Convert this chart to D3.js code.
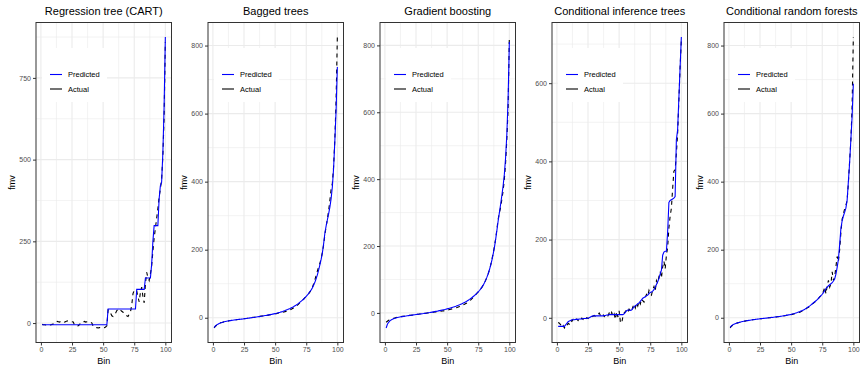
<!DOCTYPE html>
<html>
<head>
<meta charset="utf-8">
<script src="https://cdn.jsdelivr.net/npm/d3@7"></script>
<style>
  body { margin: 0; background: #fff; }
  svg { display: block; font-family: "Liberation Sans", Arial, sans-serif; }
</style>
</head>
<body>
<div id="chart"></div>
<script>
// bins 1..100
const bins = d3.range(1, 101);

const titles = ["Regression tree (CART)", "Bagged trees", "Gradient boosting",
  "Conditional inference trees", "Conditional random forests"];

const xTicks = [0, 25, 50, 75, 100];
const yTicks = [
  [0, 250, 500, 750],
  [0, 200, 400, 600, 800],
  [0, 200, 400, 600, 800],
  [0, 200, 400, 600],
  [0, 200, 400, 600, 800]
];

const cartPred = [
  -5,-5,-5,-5,-5,-5,-5,-5,-5,-5, -5,-5,-5,-5,-5,-5,-5,-5,-5,-5,
  -5,-5,-5,-5,-5,-5,-5,-5,-5,-5, -5,-5,-5,-5,-5,-5,-5,-5,-5,-5,
  -5,-5,-5,-5,-5,-5,-5,-5,-5,-5, -5,-5,-5,43,43,43,43,43,43,43,
  43,43,43,43,43,43,43,43,43,43, 43,43,43,43,43,43,103,103,103,103,
  103,103,103,138,138,138,138,138,180,250, 298,298,298,298,380,420,430,520,660,875];
const cartAct = [
  -4,-5,-5,-6,-5,-4,-5,-6,-4,-3, 2,4,5,4,3,5,6,4,3,5,
  6,7,6,5,4,3,-6,-9,-10,-8, -5,2,3,4,5,3,4,5,4,2,
  0,-10,-12,-14,-14,-15,-14,-13,-14,-15, -14,-12,-8,40,38,30,22,20,25,30,
  38,42,44,40,36,33,30,25,22,20, 28,35,55,90,100,102,98,80,65,95,
  110,80,62,120,155,140,130,150,175,220, 260,290,320,350,385,410,440,510,630,860];

const bagPred = [
  -29,-24,-21,-19,-17,-15.5,-14,-13,-12,-11, -10.3,-9.6,-9,-8.4,-7.8,-7.3,-6.8,-6.3,-5.8,-5.3,
  -4.9,-4.5,-4,-3.5,-3,-2.5,-2,-1.5,-1,-0.5, 0,0.5,1,1.6,2.2,2.8,3.4,4,4.6,5.2,
  5.8,6.4,7,7.7,8.4,9.1,9.8,10.6,11.4,12.2, 13,14,15,16,17.2,18.4,19.7,21,22.5,24,
  25.7,27.4,29.2,31,33,35.2,37.5,40,43,46, 49,52,55,59,63,67,72,77,82,88,
  96,105,115,127,141,156,172,191,218,249, 270,288,305,325,350,385,440,520,610,737];
const bagAct = [
  -30,-25,-22,-19,-17,-15,-14,-13,-12,-11, -10,-10,-9,-8,-8,-7,-7,-6,-6,-5,
  -5,-4,-4,-3,-3,-2,-2,-1,-1,0, 0,1,1,2,2,3,3,4,5,5,
  6,6,7,7,8,9,9,10,11,12, 12,13,14,14,15,16,17,18,19,20,
  22,23,25,27,29,31,34,37,41,45, 48,52,55,59,63,67,71,76,82,90,
  100,112,125,138,150,160,175,192,215,245, 268,290,315,345,378,395,445,525,640,825];

const gbPred = [
  -45,-34,-28,-24,-21,-19,-17.5,-16,-15,-14, -13,-12.3,-11.6,-11,-10.4,-9.8,-9.2,-8.6,-8,-7.5,
  -7,-6.5,-6,-5.5,-5,-4.5,-4,-3.5,-3,-2.5, -2,-1.4,-0.8,-0.2,0.4,1,1.7,2.4,3.1,3.8,
  4.5,5.2,6,6.8,7.6,8.4,9.2,10,11,12, 13,14,15,16.2,17.4,18.7,20,21.4,22.8,24.3,
  26,27.7,29.5,31.4,33.4,35.6,38,40.5,43.2,46, 49,52,55.5,59,63,67,72,77,83,90,
  98,107,117,129,143,158,176,196,220,247, 275,300,325,352,380,415,465,535,640,810];
const gbAct = [
  -28,-25,-22,-20,-18,-17,-16,-15,-14,-13, -12.5,-12,-11,-10.5,-10,-9.5,-9,-8.5,-8,-7.5,
  -7,-6.5,-6,-5.5,-5,-4.5,-4,-3.5,-3,-2.5, -2,-1.5,-1,-0.5,0,0.5,1,1.5,2,2.5,
  3,3.5,4,4.5,5,5.5,6,6.5,7,8, 9,10,11,12,13,14,15,16,17.5,19,
  20.5,22,24,26,28,30,33,36,39,43, 47,51,55,59,63,67,72,77,83,90,
  98,107,117,129,143,160,178,198,222,250, 280,300,315,340,365,400,450,520,610,825];

const citPred = [
  -22,-22,-22,-22,-22,-22,-18,-14,-10,-8, -7,-5,-5,-5,-4,-4,-4,-3,-3,-3,
  -2,-2,-2,-1,-1,0,2,4,5,5, 5,5,5,5,5,5,5,6,6,7,
  7,8,8,8,8,8,8,8,8,8, 8,8,8,10,14,18,20,20,19,20,
  24,28,31,33,36,38,42,46,50,52, 54,56,58,62,65,66,68,72,78,85,
  92,100,112,122,160,168,170,170,220,295, 300,302,304,306,310,455,480,560,640,718];
const citAct = [
  -12,-14,-18,-24,-20,-26,-18,-20,-14,-16, -6,-9,-4,-8,-6,-3,-7,-2,-5,-1,
  -4,2,-3,0,-2,1,3,2,4,6, 3,5,8,12,6,4,9,3,7,10,
  5,12,6,14,4,10,-4,15,2,18, -10,-14,2,12,16,20,14,22,18,16,
  28,34,25,38,30,42,35,48,44,40, 52,60,55,70,62,58,72,80,68,95,
  88,105,118,102,130,145,125,160,180,230, 260,280,330,375,378,420,470,555,640,710];

const crfPred = [
  -28,-24,-21,-19,-17.5,-16,-15,-14,-13,-12, -11,-10.3,-9.6,-9,-8.4,-7.8,-7.2,-6.6,-6,-5.5,
  -5,-4.5,-4,-3.5,-3,-2.6,-2.2,-1.8,-1.4,-1, -0.6,-0.2,0.2,0.6,1,1.5,2,2.5,3,3.5,
  4,4.6,5.2,5.8,6.4,7,7.7,8.4,9.1,10, 11,12,13,14.2,15.4,16.7,18,19.5,21,23,
  25,27.5,30,32.5,35,38,41,44,47,50, 53,57,61,65,69,74,80,86,90,94,
  97,100,103,108,114,128,148,172,215,262, 285,299,310,322,345,400,455,523,591,688];
const crfAct = [
  -30,-25,-22,-19,-17,-16,-15,-14,-13,-12, -11,-10,-10,-9,-8,-8,-7,-7,-6,-5,
  -5,-4,-4,-3,-3,-3,-2,-2,-1,-1, -1,0,0,1,1,1,2,2,3,3,
  4,4,5,5,6,7,7,8,9,9, 10,11,12,12,13,15,16,18,20,21,
  24,26,29,31,34,37,40,43,46,49, 53,57,61,65,70,78,90,70,95,110,
  90,100,135,110,120,150,180,165,200,250, 290,305,320,330,345,395,460,520,620,825];

const predicted = [cartPred, bagPred, gbPred, citPred, crfPred];
const actual = [cartAct, bagAct, gbAct, citAct, crfAct];

const W = 860, H = 366, panelW = 172;
const inner = { left: 36, right: 171.5, top: 22.5, bottom: 342.5 };

const svg = d3.select('#chart').append('svg')
  .attr('width', W).attr('height', H);

function expand(ext) {
  const r = ext[1] - ext[0];
  return [ext[0] - r * 0.05, ext[1] + r * 0.05];
}

titles.forEach((title, i) => {
  const g = svg.append('g').attr('transform', 'translate(' + (i * panelW) + ',0)');

  const x = d3.scaleLinear().domain(expand(d3.extent(bins))).range([inner.left, inner.right]);
  const y = d3.scaleLinear()
    .domain(expand(d3.extent(predicted[i].concat(actual[i]))))
    .range([inner.bottom, inner.top]);

  // grid
  const xMinor = xTicks.slice(0, -1).map((t, k) => (t + xTicks[k + 1]) / 2);
  const yStep = yTicks[i][1] - yTicks[i][0];
  const yMinor = d3.range(-1, yTicks[i].length + 1).map(k => yTicks[i][0] + yStep * (k + 0.5))
    .filter(v => v > y.domain()[0] && v < y.domain()[1]);

  g.append('g').selectAll('line').data(yMinor).enter().append('line')
    .attr('x1', inner.left).attr('x2', inner.right)
    .attr('y1', d => y(d)).attr('y2', d => y(d))
    .attr('stroke', '#ebebeb').attr('stroke-width', 0.6);
  g.append('g').selectAll('line').data(xMinor).enter().append('line')
    .attr('y1', inner.top).attr('y2', inner.bottom)
    .attr('x1', d => x(d)).attr('x2', d => x(d))
    .attr('stroke', '#ebebeb').attr('stroke-width', 0.6);
  g.append('g').selectAll('line').data(yTicks[i]).enter().append('line')
    .attr('x1', inner.left).attr('x2', inner.right)
    .attr('y1', d => y(d)).attr('y2', d => y(d))
    .attr('stroke', '#ebebeb').attr('stroke-width', 1.1);
  g.append('g').selectAll('line').data(xTicks).enter().append('line')
    .attr('y1', inner.top).attr('y2', inner.bottom)
    .attr('x1', d => x(d)).attr('x2', d => x(d))
    .attr('stroke', '#ebebeb').attr('stroke-width', 1.1);

  // legend background covers the grid
  g.append('rect').attr('x', 42).attr('y', 48).attr('width', 65).attr('height', 54)
    .attr('fill', '#fff');

  // clip
  const clipId = 'clip' + i;
  g.append('clipPath').attr('id', clipId).append('rect')
    .attr('x', inner.left).attr('y', inner.top)
    .attr('width', inner.right - inner.left).attr('height', inner.bottom - inner.top);

  const line = d3.line().x((d, k) => x(bins[k])).y(d => y(d));

  g.append('path').datum(actual[i])
    .attr('clip-path', 'url(#' + clipId + ')')
    .attr('d', line).attr('fill', 'none')
    .attr('stroke', '#000').attr('stroke-width', 1.1)
    .attr('stroke-dasharray', '4,4');
  g.append('path').datum(predicted[i])
    .attr('clip-path', 'url(#' + clipId + ')')
    .attr('d', line).attr('fill', 'none')
    .attr('stroke', '#0000ff').attr('stroke-width', 1.1);

  // border
  g.append('rect').attr('x', inner.left).attr('y', inner.top)
    .attr('width', inner.right - inner.left).attr('height', inner.bottom - inner.top)
    .attr('fill', 'none').attr('stroke', '#333').attr('stroke-width', 1);

  // axes
  const xAxis = g.append('g').attr('transform', 'translate(0,' + inner.bottom + ')')
    .call(d3.axisBottom(x).tickValues(xTicks).tickSize(3).tickPadding(2));
  const yAxis = g.append('g').attr('transform', 'translate(' + inner.left + ',0)')
    .call(d3.axisLeft(y).tickValues(yTicks[i]).tickSize(3).tickPadding(2));
  [xAxis, yAxis].forEach(a => {
    a.select('.domain').remove();
    a.selectAll('.tick line').attr('stroke', '#333');
    a.selectAll('.tick text').attr('fill', '#4d4d4d')
      .style('font-size', '7px').style('font-family', '"Liberation Sans", Arial, sans-serif');
  });

  // titles
  const cx = (inner.left + inner.right) / 2;
  g.append('text').attr('x', cx).attr('y', 15).attr('text-anchor', 'middle')
    .style('font-size', '11px').attr('fill', '#000').text(title);
  g.append('text').attr('x', cx).attr('y', 364).attr('text-anchor', 'middle')
    .style('font-size', '9px').attr('fill', '#000').text('Bin');
  g.append('text').attr('transform', 'translate(15,' + ((inner.top + inner.bottom) / 2) + ') rotate(-90)')
    .attr('text-anchor', 'middle').style('font-size', '9px').attr('fill', '#000').text('fmv');

  // legend
  const keys = [['Predicted', '#0000ff', 74.5], ['Actual', '#000', 89]];
  keys.forEach(k => {
    g.append('line').attr('x1', 50).attr('x2', 62).attr('y1', k[2]).attr('y2', k[2])
      .attr('stroke', k[1]).attr('stroke-width', 1.1);
    g.append('text').attr('x', 68).attr('y', k[2]).attr('dy', '0.35em')
      .style('font-size', '7.5px').attr('fill', '#000').text(k[0]);
  });
});
</script>
</body>
</html>
